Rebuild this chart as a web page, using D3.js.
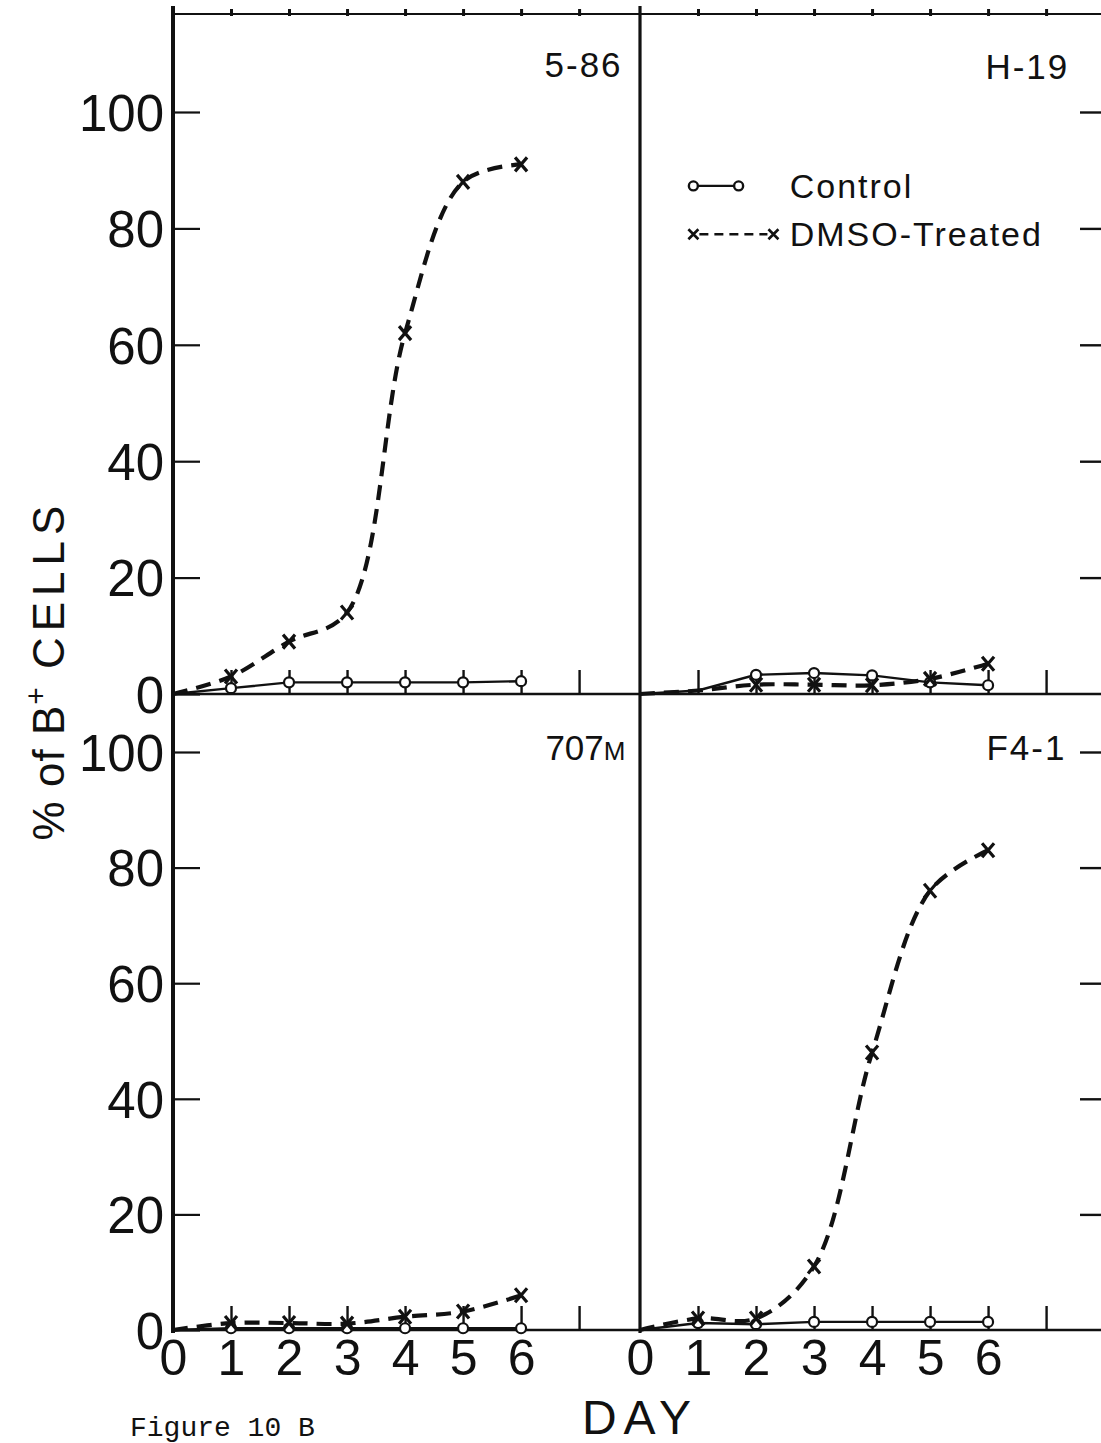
<!DOCTYPE html>
<html>
<head>
<meta charset="utf-8">
<script src="https://cdn.jsdelivr.net/npm/d3@7"></script>
<style>
  html, body { margin: 0; padding: 0; background: #fff; }
  svg { display: block; }
</style>
</head>
<body>
<svg id="chart" width="1101" height="1443"></svg>
<script>
// ---------------- data ----------------
const days = [0, 1, 2, 3, 4, 5, 6];
const markerDays = [1, 2, 3, 4, 5, 6];
const markerDaysH19 = [2, 3, 4, 5, 6];
const frameTickDays = [1, 2, 3, 4, 5, 6, 7];
const dayLabels = [0, 1, 2, 3, 4, 5, 6];
const yTickValues = [0, 20, 40, 60, 80, 100];
const yInnerTicks = [20, 40, 60, 80, 100];

const control586 = [0, 1, 2, 2, 2, 2, 2.2];
const dmso586    = [0, 3, 9, 14, 62, 88, 91];

const controlH19 = [0, 0.6, 3.3, 3.6, 3.2, 2, 1.5];
const dmsoH19    = [0, 0.6, 1.6, 1.6, 1.5, 2.6, 5.2];

const control707M = [0, 0.3, 0.3, 0.3, 0.3, 0.3, 0.3];
const dmso707M    = [0, 1.2, 1.2, 1.1, 2.3, 3.2, 6];

const controlF41 = [0, 1.2, 1, 1.4, 1.4, 1.4, 1.4];
const dmsoF41    = [0, 2, 2, 11, 48, 76, 83];

const panelNames = ["5-86", "H-19", "707M", "F4-1"];
const legendLabels = ["Control", "DMSO-Treated"];
const yAxisTitle = ["% of B", "+", " CELLS"];
const xAxisTitle = "DAY";
const figureCaption = "Figure 10 B";

// ---------------- layout ----------------
const SANS = "'Liberation Sans', Arial, sans-serif";
const MONO = "'Liberation Mono', 'DejaVu Sans Mono', monospace";
const ink = "#111";
const svg = d3.select("#chart");
const xL = d3.scaleLinear().domain([0, 8.05]).range([173, 640]);
const xR = d3.scaleLinear().domain([0, 8.05]).range([640, 1107]);
const yT = d3.scaleLinear().domain([0, 100]).range([694, 112]);
const yB = d3.scaleLinear().domain([0, 100]).range([1330, 752]);
const frameTop = 14;

const toPts = (vals) => days.map((d, i) => ({ day: d, v: vals[i] }));
const panels = [
  { name: panelNames[0], x: xL, y: yT, control: toPts(control586), dmso: toPts(dmso586), marks: markerDays },
  { name: panelNames[1], x: xR, y: yT, control: toPts(controlH19), dmso: toPts(dmsoH19), marks: markerDaysH19 },
  { name: panelNames[2], x: xL, y: yB, control: toPts(control707M), dmso: toPts(dmso707M), marks: markerDays },
  { name: panelNames[3], x: xR, y: yB, control: toPts(controlF41), dmso: toPts(dmsoF41), marks: markerDays }
];

// ---------------- frame ----------------
const frame = svg.append("g");
[frameTop, yT(0), yB(0)].forEach((yy, i) => {
  frame.append("line")
    .attr("x1", xL(0)).attr("x2", 1101)
    .attr("y1", yy).attr("y2", yy)
    .attr("stroke", ink).attr("stroke-width", i === 0 ? 2 : 2.4);
});
frame.append("line").attr("x1", xL(0)).attr("x2", xL(0))
  .attr("y1", 6).attr("y2", yB(0) + 3).attr("stroke", ink).attr("stroke-width", 4);
frame.append("line").attr("x1", xR(0)).attr("x2", xR(0))
  .attr("y1", 6).attr("y2", yB(0) + 3).attr("stroke", ink).attr("stroke-width", 3.2);

// top frame ticks
[xL, xR].forEach(xs => {
  const ax = d3.axisTop(xs).tickValues(frameTickDays).tickSize(7).tickFormat("");
  const g = svg.append("g").attr("transform", `translate(0,${frameTop + 2})`).call(ax);
  g.select(".domain").remove();
  g.selectAll(".tick line").attr("stroke", ink).attr("stroke-width", 3);
});

// inward day ticks on each panel's bottom axis
panels.forEach(p => {
  const ax = d3.axisBottom(p.x).tickValues(frameTickDays).tickSize(-24).tickFormat("");
  const g = svg.append("g").attr("transform", `translate(0,${p.y(0)})`).call(ax);
  g.select(".domain").remove();
  g.selectAll(".tick line").attr("stroke", ink).attr("stroke-width", 2.4);
});

// left y axes with labels
[yT, yB].forEach(ys => {
  const ax = d3.axisLeft(ys).tickValues(yTickValues).tickSizeInner(-27).tickSizeOuter(0).tickPadding(9);
  const g = svg.append("g").attr("transform", `translate(${xL(0)},0)`).call(ax);
  g.select(".domain").remove();
  g.selectAll(".tick line").attr("stroke", ink).attr("stroke-width", 2.2);
  g.selectAll(".tick text")
    .style("font-family", SANS).style("font-size", "51px")
    .attr("fill", ink).attr("dy", "0.36em");
});

// right-edge ticks for right panels
[yT, yB].forEach(ys => {
  const ax = d3.axisLeft(ys).tickValues(yInnerTicks).tickSize(27).tickFormat("");
  const g = svg.append("g").attr("transform", `translate(${xR.range()[1]},0)`).call(ax);
  g.select(".domain").remove();
  g.selectAll(".tick line").attr("stroke", ink).attr("stroke-width", 2.4);
});

// bottom day labels
[xL, xR].forEach(xs => {
  const ax = d3.axisBottom(xs).tickValues(dayLabels).tickSize(0).tickPadding(9).tickFormat(d3.format("d"));
  const g = svg.append("g").attr("transform", `translate(0,${yB(0)})`).call(ax);
  g.select(".domain").remove();
  g.selectAll(".tick text")
    .style("font-family", SANS).style("font-size", "50px")
    .attr("fill", ink);
});

// ---------------- series ----------------
panels.forEach(p => {
  const g = svg.append("g");
  const ctrlLine = d3.line().x(d => p.x(d.day)).y(d => p.y(d.v));
  const dmsoLine = d3.line().x(d => p.x(d.day)).y(d => p.y(d.v)).curve(d3.curveCatmullRom.alpha(0.5));

  g.append("path").datum(p.control).attr("d", ctrlLine)
    .attr("fill", "none").attr("stroke", ink).attr("stroke-width", 2.4);
  g.append("path").datum(p.dmso).attr("d", dmsoLine)
    .attr("fill", "none").attr("stroke", ink).attr("stroke-width", 4.2)
    .attr("stroke-dasharray", "15,9");

  const cm = p.control.filter(d => p.marks.includes(d.day));
  g.selectAll("circle.c").data(cm).join("circle")
    .attr("cx", d => p.x(d.day)).attr("cy", d => p.y(d.v)).attr("r", 5)
    .attr("fill", "#fff").attr("stroke", ink).attr("stroke-width", 2.2);

  const xm = p.dmso.filter(d => p.marks.includes(d.day));
  g.selectAll("path.x").data(xm).join("path")
    .attr("transform", d => `translate(${p.x(d.day)},${p.y(d.v)})`)
    .attr("d", "M-6,-7L6,7M-6,7L6,-7")
    .attr("stroke", ink).attr("stroke-width", 3.2).attr("fill", "none");
});

// ---------------- panel labels ----------------
const labelPos = [
  { x: xL(7.75), y: yT(106) },
  { x: xR(7.4),  y: yT(105.7) },
  { x: xL(7.8),  y: yB(98.6) },
  { x: xR(7.35), y: yB(98.6) }
];
panels.forEach((p, i) => {
  const t = svg.append("text")
    .attr("x", labelPos[i].x).attr("y", labelPos[i].y)
    .attr("text-anchor", "end")
    .style("font-family", SANS).style("font-size", "35px").style("letter-spacing", "2px")
    .attr("fill", ink);
  if (p.name === "707M") {
    t.style("letter-spacing", "0px");
    t.append("tspan").text("707");
    t.append("tspan").style("font-size", "26px").text("M");
  } else {
    t.text(p.name);
  }
});

// ---------------- legend ----------------
const lg = svg.append("g");
const lx0 = xR(0.92), lx1 = xR(1.7), ltx = xR(2.58);
const ly1 = yT(87.3), ly2 = yT(79);
lg.append("line").attr("x1", lx0).attr("x2", lx1).attr("y1", ly1).attr("y2", ly1)
  .attr("stroke", ink).attr("stroke-width", 2.2);
[lx0, lx1].forEach(xx => lg.append("circle").attr("cx", xx).attr("cy", ly1).attr("r", 4.5)
  .attr("fill", "#fff").attr("stroke", ink).attr("stroke-width", 2.4));
lg.append("line").attr("x1", lx0 + 6).attr("x2", xR(2.3) - 6).attr("y1", ly2).attr("y2", ly2)
  .attr("stroke", ink).attr("stroke-width", 2.6).attr("stroke-dasharray", "9,6");
[lx0, xR(2.3)].forEach(xx => lg.append("path")
  .attr("transform", `translate(${xx},${ly2})`).attr("d", "M-5,-5L5,5M-5,5L5,-5")
  .attr("stroke", ink).attr("stroke-width", 2.6));
[ly1, ly2].forEach((yy, i) => lg.append("text").attr("x", ltx).attr("y", yy + 12)
  .style("font-family", SANS).style("font-size", "34px").style("letter-spacing", "2px")
  .attr("fill", ink).text(legendLabels[i]));

// ---------------- axis titles ----------------
const yt = svg.append("text")
  .attr("transform", "translate(64,670) rotate(-90)")
  .attr("text-anchor", "middle")
  .style("font-family", SANS).style("font-size", "44px")
  .attr("fill", ink);
yt.append("tspan").style("letter-spacing", "1px").text(yAxisTitle[0]);
yt.append("tspan").attr("dy", -18).style("font-size", "30px").text(yAxisTitle[1]);
yt.append("tspan").attr("dy", 18).style("letter-spacing", "6px").text(yAxisTitle[2]);

svg.append("text").attr("x", xR(0)).attr("y", 1434)
  .attr("text-anchor", "middle")
  .style("font-family", SANS).style("font-size", "48px").style("letter-spacing", "7px")
  .attr("fill", ink).text(xAxisTitle);

svg.append("text").attr("x", 130).attr("y", 1436)
  .style("font-family", MONO).style("font-size", "28px")
  .attr("fill", ink).text(figureCaption);
</script>
</body>
</html>
